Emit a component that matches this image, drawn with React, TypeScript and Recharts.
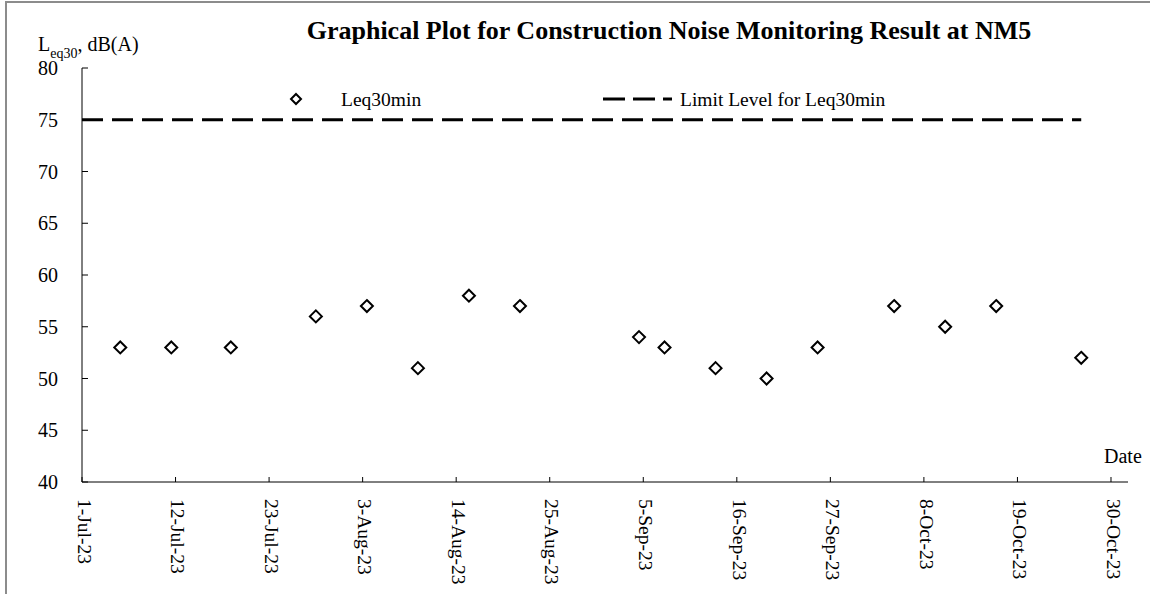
import React from 'react';
import { ComposedChart, Scatter, Line, XAxis, YAxis } from 'recharts';

const sampleDates = [
  '2023-07-05T12:00', '2023-07-11T12:00', '2023-07-18T12:00', '2023-07-28T12:00',
  '2023-08-03T12:00', '2023-08-09T12:00', '2023-08-15T12:00', '2023-08-21T12:00',
  '2023-09-04T12:00', '2023-09-07T12:00', '2023-09-13T12:00', '2023-09-19T12:00',
  '2023-09-25T12:00', '2023-10-04T12:00', '2023-10-10T12:00', '2023-10-16T12:00',
  '2023-10-26T12:00',
];
const leq30Values = [53, 53, 53, 56, 57, 51, 58, 57, 54, 53, 51, 50, 53, 57, 55, 57, 52];

const limitDates = ['2023-07-01T00:00', '2023-10-26T12:00'];
const limitLevel = 75;

const axisStart = '2023-07-01T00:00';
const axisEnd = '2023-11-01T00:00';
const xTickDates = [
  '2023-07-01T00:00', '2023-07-12T00:00', '2023-07-23T00:00', '2023-08-03T00:00',
  '2023-08-14T00:00', '2023-08-25T00:00', '2023-09-05T00:00', '2023-09-16T00:00',
  '2023-09-27T00:00', '2023-10-08T00:00', '2023-10-19T00:00', '2023-10-30T00:00',
];
const yTicks = [40, 45, 50, 55, 60, 65, 70, 75, 80];
const MONTHS = ['Jan', 'Feb', 'Mar', 'Apr', 'May', 'Jun', 'Jul', 'Aug', 'Sep', 'Oct', 'Nov', 'Dec'];

const FONT = '"Liberation Serif", "Times New Roman", serif';
const DAY = 86400000;
const t0 = Date.parse(axisStart + ':00Z');
const dayOf = (s: string) => (Date.parse(s + ':00Z') - t0) / DAY;

const formatDate = (day: number) => {
  const d = new Date(t0 + day * DAY);
  return `${d.getUTCDate()}-${MONTHS[d.getUTCMonth()]}-${String(d.getUTCFullYear()).slice(2)}`;
};

const pointData = sampleDates.map((s, i) => ({ x: dayOf(s), y: leq30Values[i] }));
const limitData = limitDates.map((s) => ({ x: dayOf(s), y: limitLevel }));

const XTick = (props: any) => {
  const { x, y, payload } = props;
  return (
    <g>
      <line x1={x} y1={y} x2={x} y2={y - 5} stroke="#000" strokeWidth={1} />
      <text
        x={x}
        y={y + 17}
        dy="0.22em"
        transform={`rotate(90, ${x}, ${y + 17})`}
        textAnchor="start"
        fill="#000"
        fontSize={19.5}
        fontFamily={FONT}
      >
        {formatDate(payload.value)}
      </text>
    </g>
  );
};

const YTick = (props: any) => {
  const { x, y, payload } = props;
  return (
    <g>
      <line x1={x} y1={y} x2={x + 6} y2={y} stroke="#000" strokeWidth={1} />
      <text x={x - 24} y={y} dy="0.35em" textAnchor="end" fill="#000" fontSize={20} fontFamily={FONT}>
        {payload.value}
      </text>
    </g>
  );
};

const Diamond = (props: any) => {
  const { cx, cy } = props;
  const r = 6;
  return (
    <polygon
      points={`${cx},${cy - r} ${cx + r},${cy} ${cx},${cy + r} ${cx - r},${cy}`}
      fill="#fff"
      stroke="#000"
      strokeWidth={2}
    />
  );
};

export default function App() {
  return (
    <div style={{ position: 'absolute', left: 0, top: 0, width: 1150, height: 594, background: '#fff', overflow: 'hidden' }}>
      <div
        style={{
          position: 'absolute',
          left: 5,
          top: 1,
          width: 1200,
          height: 700,
          borderLeft: '2px solid #8c8c8c',
          borderTop: '2px solid #8c8c8c',
        }}
      />
      <ComposedChart width={1150} height={594} margin={{ top: 68, right: 22, bottom: 0, left: 0 }}>
        <XAxis
          type="number"
          dataKey="x"
          domain={[0, dayOf(axisEnd)]}
          ticks={xTickDates.map(dayOf)}
          interval={0}
          height={112}
          tickSize={0}
          tickMargin={0}
          tick={XTick}
          stroke="#000"
          allowDataOverflow
        />
        <YAxis
          type="number"
          dataKey="y"
          domain={[40, 80]}
          ticks={yTicks}
          interval={0}
          width={82}
          tickSize={0}
          tickMargin={0}
          tick={YTick}
          stroke="#000"
          allowDataOverflow
        />
        <Line
          data={limitData}
          dataKey="y"
          stroke="#000"
          strokeWidth={3}
          strokeDasharray="21 9"
          dot={false}
          activeDot={false}
          isAnimationActive={false}
        />
        <Scatter data={pointData} dataKey="y" shape={Diamond} isAnimationActive={false} />
      </ComposedChart>
      <svg width={1150} height={594} style={{ position: 'absolute', left: 0, top: 0, pointerEvents: 'none' }}>
        <text x={669} y={39} textAnchor="middle" fontSize={26} fontWeight="bold" fontFamily={FONT} fill="#000">
          Graphical Plot for Construction Noise Monitoring Result at NM5
        </text>
        <text x={38} y={51} fontSize={20} fontFamily={FONT} fill="#000">
          L<tspan fontSize={14} dy={7}>eq30</tspan>
          <tspan fontSize={20} dy={-7}>, dB(A)</tspan>
        </text>
        <text x={1104} y={463} fontSize={20} fontFamily={FONT} fill="#000">
          Date
        </text>
        {/* legend */}
        <polygon points="296,94 301,99 296,104 291,99" fill="#fff" stroke="#000" strokeWidth={2} />
        <text x={341} y={106} fontSize={19.5} fontFamily={FONT} fill="#000">
          Leq30min
        </text>
        <line x1={603} y1={99} x2={672} y2={99} stroke="#000" strokeWidth={3} strokeDasharray="22 8" />
        <text x={680} y={106} fontSize={19.5} fontFamily={FONT} fill="#000">
          Limit Level for Leq30min
        </text>
      </svg>
    </div>
  );
}
